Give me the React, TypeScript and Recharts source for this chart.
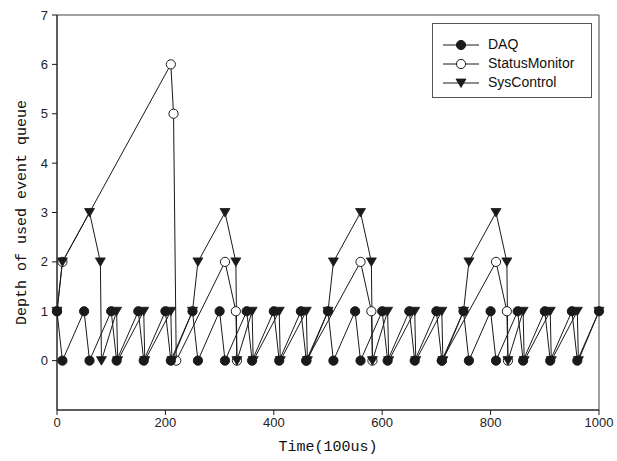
import React from 'react'
import { LineChart, Line, XAxis, YAxis, Label, ReferenceArea } from 'recharts'

// DAQ queue depth
const daqTime = [0, 10, 50, 60, 100, 110, 150, 160, 200, 210, 250, 260, 300, 310, 350, 360, 400, 410, 450, 460, 500, 510, 550, 560, 600, 610, 650, 660, 700, 710, 750, 760, 800, 810, 850, 860, 900, 910, 950, 960, 1000]
const daqDepth = [1, 0, 1, 0, 1, 0, 1, 0, 1, 0, 1, 0, 1, 0, 1, 0, 1, 0, 1, 0, 1, 0, 1, 0, 1, 0, 1, 0, 1, 0, 1, 0, 1, 0, 1, 0, 1, 0, 1, 0, 1]

// StatusMonitor queue depth (null = no sample, line breaks)
const statusTime = [0, 10, 210, 215, 220, 310, 330, 332, 400, 460, 560, 580, 582, 650, 710, 810, 830, 832]
const statusDepth = [1, 2, 6, 5, 0, 2, 1, 0, null, 0, 2, 1, 0, null, 0, 2, 1, 0]

// SysControl queue depth
const sysTime = [0, 10, 60, 80, 82, 110, 112, 160, 162, 210, 212, 250, 260, 310, 330, 332, 360, 362, 410, 412, 460, 462, 500, 510, 560, 580, 582, 610, 612, 660, 662, 710, 712, 750, 760, 810, 830, 832, 860, 862, 910, 912, 960, 962, 1000]
const sysDepth = [1, 2, 3, 2, 0, 1, 0, 1, 0, 1, 0, 1, 2, 3, 2, 0, 1, 0, 1, 0, 1, 0, 1, 2, 3, 2, 0, 1, 0, 1, 0, 1, 0, 1, 2, 3, 2, 0, 1, 0, 1, 0, 1, 0, 1]

const xTicks = [0, 200, 400, 600, 800, 1000]
const yTicks = [0, 1, 2, 3, 4, 5, 6, 7]

const toRows = (t: number[], v: (number | null)[]) => t.map((x, i) => ({ t: x, v: v[i] }))

const daqRows = toRows(daqTime, daqDepth)
const statusRows = toRows(statusTime, statusDepth)
const sysRows = toRows(sysTime, sysDepth)

const INK = '#1a1a1a'
const tickFont = { fontSize: 13, fill: '#222', fontFamily: 'Liberation Sans, Arial, sans-serif' }
const labelFont = 'Liberation Mono, DejaVu Sans Mono, monospace'

type Kind = 'filled' | 'open' | 'tri'

function Marker({ cx, cy, kind }: { cx: number; cy: number; kind: Kind }) {
  if (kind === 'tri') {
    return <path d={`M${cx - 5},${cy - 4} L${cx + 5},${cy - 4} L${cx},${cy + 4.5} Z`} fill={INK} stroke={INK} strokeWidth={0.8} />
  }
  return <circle cx={cx} cy={cy} r={4.6} fill={kind === 'filled' ? INK : '#fff'} stroke={INK} strokeWidth={1} />
}

const dotFor = (kind: Kind) => (props: any) => {
  const { cx, cy, value, index } = props
  if (cx == null || cy == null || value == null) return <g key={`n-${kind}-${index}`} />
  return <Marker key={`${kind}-${index}`} cx={cx} cy={cy} kind={kind} />
}

const legendItems: { name: string; kind: Kind }[] = [
  { name: 'DAQ', kind: 'filled' },
  { name: 'StatusMonitor', kind: 'open' },
  { name: 'SysControl', kind: 'tri' },
]

function LegendBox() {
  return (
    <div style={{ position: 'absolute', left: 432, top: 23, border: '1px solid #555', width: 160, height: 75, boxSizing: 'border-box', padding: '11px 0 0 9px', background: '#fff' }}>
      {legendItems.map((it) => (
        <div key={it.name} style={{ display: 'flex', alignItems: 'center', height: 19 }}>
          <svg width={38} height={12}>
            <line x1={1} y1={6} x2={37} y2={6} stroke={INK} strokeWidth={1} />
            <Marker cx={19} cy={6} kind={it.kind} />
          </svg>
          <span style={{ fontFamily: 'Liberation Sans, Arial, sans-serif', fontSize: 14, color: '#111', marginLeft: 8, lineHeight: '19px' }}>{it.name}</span>
        </div>
      ))}
    </div>
  )
}

const yLabel = (props: any) => {
  const { viewBox } = props
  const cx = 22
  const cy = viewBox.y + viewBox.height / 2
  return (
    <text x={cx} y={cy} transform={`rotate(-90 ${cx} ${cy})`} textAnchor="middle" dominantBaseline="central" fontFamily={labelFont} fontSize={15} fill="#111">
      Depth of used event queue
    </text>
  )
}

const xLabel = (props: any) => {
  const { viewBox } = props
  const cx = viewBox.x + viewBox.width / 2
  return (
    <text x={cx} y={447} textAnchor="middle" dominantBaseline="central" fontFamily={labelFont} fontSize={15} fill="#111">
      Time(100us)
    </text>
  )
}

export default function App() {
  return (
    <div style={{ position: 'relative', width: 617, height: 461, background: '#fff' }}>
      <style>{'body{margin:0;background:#fff}'}</style>
      <LineChart width={617} height={461} margin={{ top: 15, right: 18, bottom: 0, left: 0 }}>
        <XAxis
          dataKey="t"
          type="number"
          domain={[0, 1000]}
          ticks={xTicks}
          height={51}
          tick={tickFont}
          tickSize={5}
          tickMargin={3}
          stroke={INK}
          allowDuplicatedCategory={false}
        >
          <Label content={xLabel} />
        </XAxis>
        <YAxis
          type="number"
          domain={[-1, 7]}
          ticks={yTicks}
          width={57}
          tick={tickFont}
          tickSize={5}
          tickMargin={4}
          stroke={INK}
        >
          <Label content={yLabel} />
        </YAxis>
        {/* plot frame */}
        <ReferenceArea x1={0} x2={1000} y1={-1} y2={7} fill="none" stroke="#444" strokeWidth={1} ifOverflow="visible" />
        <Line data={statusRows} dataKey="v" name="StatusMonitor" stroke={INK} strokeWidth={1} dot={dotFor('open')} activeDot={false} isAnimationActive={false} />
        <Line data={daqRows} dataKey="v" name="DAQ" stroke={INK} strokeWidth={1} dot={dotFor('filled')} activeDot={false} isAnimationActive={false} />
        <Line data={sysRows} dataKey="v" name="SysControl" stroke={INK} strokeWidth={1} dot={dotFor('tri')} activeDot={false} isAnimationActive={false} />
      </LineChart>
      <LegendBox />
    </div>
  )
}
